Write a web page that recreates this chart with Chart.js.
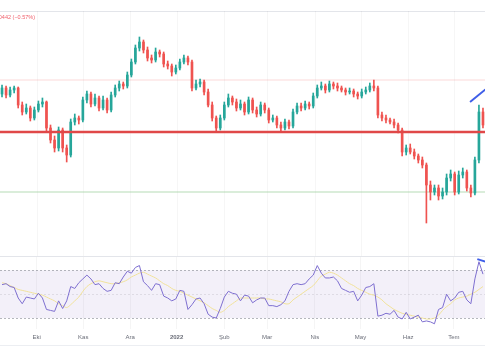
<!DOCTYPE html>
<html><head><meta charset="utf-8">
<script src="https://cdn.jsdelivr.net/npm/chart.js@4.4.1/dist/chart.umd.min.js"></script>
<style>
html,body{margin:0;padding:0;background:#fff;width:485px;height:360px;overflow:hidden;position:relative}
canvas{position:absolute;left:0}
#c1{top:0}
#c2{top:256px}
#chg{position:absolute;left:-9px;top:14px;font:5.5px "Liberation Sans",Arial,sans-serif;color:#f0606c;white-space:nowrap}
</style></head>
<body>
<canvas id="c1" width="485" height="256"></canvas>
<canvas id="c2" width="485" height="104"></canvas>
<div id="chg">−0.0442 (−0.57%)</div>
<script>
// ---- data (price in arbitrary points) ----
const open = [206,212,205,210,212,195,188,192,182,190,196,198,172,160,152,170,152,145,178,182,180,200,206,196,202,192,200,190,205,212,216,214,225,238,252,258,250,242,240,248,246,236,234,228,232,238,242,238,212,216,218,208,195,182,172,182,195,202,198,192,196,188,200,190,186,195,190,180,182,175,172,178,174,188,194,192,196,194,204,212,214,210,216,214,212,210,208,209,206,204,208,210,214,212,185,182,180,178,175,170,148,152,148,144,140,135,115,108,112,104,108,122,126,108,125,128,112,107,140,188];
const close = [212,205,210,212,195,188,192,182,190,196,198,172,160,152,170,152,145,178,182,180,200,206,196,202,192,200,190,205,212,216,214,225,238,252,258,250,242,240,248,246,236,234,228,232,238,242,238,212,216,218,208,195,182,172,182,195,202,198,192,196,188,200,190,186,195,190,180,182,175,172,178,174,188,194,192,196,194,204,212,214,210,216,214,212,210,208,209,206,204,208,210,214,212,185,182,180,178,175,170,148,152,148,144,140,135,115,108,112,104,108,122,126,108,125,128,112,107,140,188,175];
const high = [215,214,213,214,213,198,196,194,193,199,202,199,175,164,173,172,155,181,186,184,203,209,208,206,204,204,202,208,215,219,218,228,241,255,263,260,253,245,252,250,248,239,236,235,241,245,244,240,220,221,220,211,198,184,185,198,206,204,201,200,198,203,202,193,198,197,192,185,184,178,181,180,191,197,197,199,198,207,215,218,216,219,218,217,214,212,212,211,208,211,213,217,220,214,188,185,182,181,177,172,155,156,151,146,143,137,119,115,115,112,126,130,128,129,132,130,115,143,195,192];
const low = [203,202,203,207,192,185,186,179,180,188,193,169,157,148,149,148,138,143,175,176,178,197,193,194,189,190,187,188,203,209,211,212,223,236,249,247,239,237,238,243,233,231,224,226,230,236,235,209,210,213,205,193,179,169,170,180,193,195,189,190,185,186,187,183,184,187,177,178,172,169,170,171,172,186,189,190,191,192,202,210,207,208,211,209,208,205,206,203,201,202,206,208,209,182,179,177,176,172,167,144,145,146,141,137,132,77,100,105,100,101,105,119,105,106,122,109,103,105,137,172];
const rsi = [58.0,58.8,56.4,55.6,46.8,42.0,47.6,46.8,46.0,50.8,46.8,37.2,36.4,35.6,44.4,38.0,44.4,56.4,54.8,59.6,62.8,66.0,62.8,58.0,58.8,54.8,52.4,53.2,59.6,58.8,64.4,69.2,67.6,72.4,74.0,60.4,57.2,53.2,58.8,58.0,48.4,46.8,44.4,46.0,53.2,52.4,37.2,41.2,46.0,46.8,42.0,33.2,30.8,30.0,38.0,47.6,52.4,50.8,50.0,44.4,49.2,48.4,42.8,45.2,46.8,46.8,40.4,40.4,39.6,41.2,44.4,52.4,58.0,58.8,58.0,58.8,62.8,66.0,74.0,67.6,63.6,63.6,64.4,61.2,54.8,53.2,51.6,52.4,44.4,49.2,55.6,56.4,58.8,31.6,32.4,34.0,33.2,36.4,30.8,29.2,34.8,29.2,30.8,32.4,26.8,27.6,26.8,25.2,37.2,38.8,50.0,44.4,46.8,51.6,52.4,45.2,42.0,62.8,77.2,66.8];
const rsiMa = [59.6,58.8,57.2,55.6,54.0,53.2,52.4,51.6,50.8,50.0,49.2,47.6,46.0,44.4,42.0,40.4,38.8,41.2,44.4,47.6,52.4,56.4,58.8,60.4,61.2,60.4,59.6,58.8,58.8,59.6,60.4,62.0,64.4,66.0,67.6,68.4,66.8,65.2,63.6,61.2,58.8,57.2,54.8,53.2,52.4,50.8,49.2,47.6,46.0,44.4,42.8,40.4,38.0,36.4,34.8,36.4,39.6,42.0,44.4,46.8,46.8,46.8,46.8,46.8,46.8,46.0,46.0,45.2,44.4,43.6,42.0,42.0,45.2,47.6,50.0,52.4,54.8,57.2,61.2,65.2,66.8,68.4,67.6,66.0,63.6,61.2,58.8,57.2,54.8,53.2,51.6,50.0,49.2,47.6,45.2,42.0,39.6,37.2,35.6,34.0,33.2,32.4,31.6,30.8,30.0,29.2,29.2,30.0,32.4,36.4,39.6,42.0,45.2,46.8,47.6,48.4,50.0,51.6,54.0,56.4];
const tickPos = [8.6, 20.1, 31.7, 43.2, 55.0, 65.6, 77.4, 88.7, 100.5, 111.8];
const tickLabels = ['Eki','Kas','Ara','2022','Şub','Mar','Nis','May','Haz','Tem'];
const levels = {resistance: 220, pivot: 168, support: 108};
const trendPrice = [{x:115.8, y:198}, {x:119.6, y:210.5}];
const trendRsi = [{x:117.6, y:79.4}, {x:119.6, y:77.3}];

const UP = '#26a69a', DOWN = '#ef5350';
const N = close.length;
const cols = close.map((c,i)=> c >= open[i] ? UP : DOWN);
const wickData = close.map((c,i)=>({x:i, y:[low[i], high[i]]}));
const bodyData = close.map((c,i)=>({x:i, y:[open[i], c]}));
const xMin = -0.5, xMax = N - 0.5;

const mainDeco = {
  id:'mainDeco',
  beforeDatasetsDraw(chart){
    const {ctx, chartArea:a, scales:{x,y}} = chart;
    ctx.save();
    ctx.strokeStyle = '#e3e5ea'; ctx.lineWidth = 1;
    ctx.beginPath(); ctx.moveTo(a.left, a.top+0.5); ctx.lineTo(a.right, a.top+0.5); ctx.stroke();
    ctx.strokeStyle = 'rgba(0,0,0,0.035)';
    tickPos.forEach(v=>{const px=Math.round(x.getPixelForValue(v))+0.5; ctx.beginPath(); ctx.moveTo(px,a.top); ctx.lineTo(px,a.bottom); ctx.stroke();});
    const hl=(v,c,w)=>{const py=y.getPixelForValue(v); ctx.strokeStyle=c; ctx.lineWidth=w; ctx.beginPath(); ctx.moveTo(a.left,py); ctx.lineTo(a.right,py); ctx.stroke();};
    hl(levels.resistance,'rgba(239,83,80,0.22)',1);
    hl(levels.support,'rgba(120,190,120,0.55)',1);
    ctx.restore();
  },
  afterDatasetsDraw(chart){
    const {ctx, chartArea:a, scales:{y}} = chart;
    ctx.save();
    const py=y.getPixelForValue(levels.pivot);
    ctx.strokeStyle='#e04848'; ctx.lineWidth=2.6;
    ctx.beginPath(); ctx.moveTo(a.left,py); ctx.lineTo(a.right,py); ctx.stroke();
    ctx.restore();
  }
};

new Chart(document.getElementById('c1'), {
  data:{datasets:[
    {type:'bar', data:wickData, backgroundColor:cols, barThickness:1, grouped:false, order:3},
    {type:'bar', data:bodyData, backgroundColor:cols, barThickness:2, grouped:false, minBarLength:1, order:2},
    {type:'line', data:trendPrice, borderColor:'#3f5ee8', borderWidth:2, pointRadius:0, order:1}
  ]},
  options:{
    responsive:false, animation:false, devicePixelRatio:1,
    layout:{padding:{top:11,bottom:0,left:0,right:0}},
    plugins:{legend:{display:false}, tooltip:{enabled:false}},
    scales:{
      x:{type:'linear', min:xMin, max:xMax, offset:false, display:false},
      y:{min:44, max:289, display:false}
    }
  },
  plugins:[mainDeco]
});

const rsiDeco = {
  id:'rsiDeco',
  beforeDatasetsDraw(chart){
    const {ctx, chartArea:a, scales:{y}} = chart;
    ctx.save();
    ctx.strokeStyle='#e3e5ea'; ctx.lineWidth=1;
    ctx.beginPath(); ctx.moveTo(a.left,a.top+0.5); ctx.lineTo(a.right,a.top+0.5); ctx.stroke();
    const y70=y.getPixelForValue(70), y30=y.getPixelForValue(30), y50=y.getPixelForValue(50);
    ctx.fillStyle='rgba(126,87,194,0.09)';
    ctx.fillRect(a.left,y70,a.right-a.left,y30-y70);
    ctx.setLineDash([2,2]);
    ctx.strokeStyle='rgba(120,123,134,0.55)';
    [y70,y30].forEach(p=>{ctx.beginPath(); ctx.moveTo(a.left,Math.round(p)+0.5); ctx.lineTo(a.right,Math.round(p)+0.5); ctx.stroke();});
    ctx.strokeStyle='rgba(120,123,134,0.18)';
    ctx.beginPath(); ctx.moveTo(a.left,Math.round(y50)+0.5); ctx.lineTo(a.right,Math.round(y50)+0.5); ctx.stroke();
    ctx.setLineDash([]);
    ctx.strokeStyle='#eceef2';
    const by = chart.height - 14.5;
    ctx.beginPath(); ctx.moveTo(a.left,by); ctx.lineTo(a.right,by); ctx.stroke();
    ctx.restore();
  }
};

new Chart(document.getElementById('c2'), {
  data:{datasets:[
    {type:'line', data:rsiMa.map((v,i)=>({x:i,y:v})), borderColor:'#f1e29a', borderWidth:1, pointRadius:0, tension:0.3, order:3},
    {type:'line', data:rsi.map((v,i)=>({x:i,y:v})), borderColor:'#7e6fd0', borderWidth:1, pointRadius:0, order:2},
    {type:'line', data:trendRsi, borderColor:'#3f5ee8', borderWidth:2, pointRadius:0, order:1}
  ]},
  options:{
    responsive:false, animation:false, devicePixelRatio:1,
    layout:{padding:{top:0,bottom:14,left:0,right:0}},
    plugins:{legend:{display:false}, tooltip:{enabled:false}},
    scales:{
      x:{type:'linear', min:xMin, max:xMax, offset:false,
         afterBuildTicks(s){ s.ticks = tickPos.map(v=>({value:v})); },
         ticks:{autoSkip:false, maxRotation:0, padding:5, color:'#6a6d78',
                font:(c)=>({family:'"Liberation Sans", Arial, sans-serif', size:6, weight: c.index===3 ? 'bold' : 'normal'}),
                callback:(v,i)=>tickLabels[i]},
         grid:{color:'rgba(0,0,0,0.04)', drawTicks:false}, border:{display:false}},
      y:{min:21, max:82, display:false}
    }
  },
  plugins:[rsiDeco]
});
</script>
</body></html>
